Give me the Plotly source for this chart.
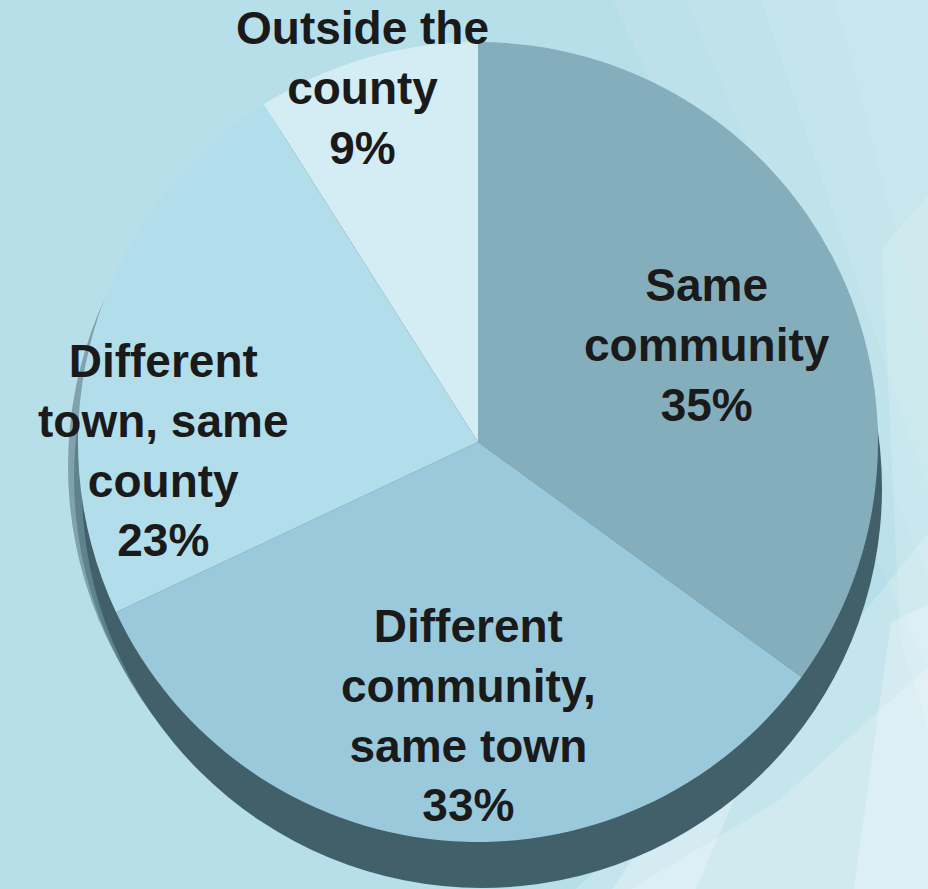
import plotly.graph_objects as go

# ---- data ----
categories = ["Same community", "Different community, same town",
              "Different town, same county", "Outside the county"]
label_lines = ["Same<br>community", "Different<br>community,<br>same town",
               "Different<br>town, same<br>county", "Outside the<br>county"]
values = [35, 33, 23, 9]

# ---- styles / layout ----
slice_colors = ["#85aebd", "#9ac9db", "#b2deec", "#d4ecf4"]
W, H = 928, 889
cx, cy, R = 478, 442, 400          # pie centre / radius in pixels
label_px = [(707, 345), (468, 715), (163, 450), (362, 88)]  # label anchor (px)

def px2paper(x, y):
    return x / W, 1 - y / H

fig = go.Figure()
fig.add_trace(go.Pie(
    labels=categories,
    values=values,
    sort=False,
    direction="clockwise",
    rotation=0,
    marker=dict(colors=slice_colors, line=dict(width=0)),
    textinfo="none",
    hoverinfo="label+percent",
    showlegend=False,
    domain=dict(x=[(cx - R) / W, (cx + R) / W],
                y=[1 - (cy + R) / H, 1 - (cy - R) / H]),
))

def circle(dx, dy, color, r=R, opacity=1.0):
    return dict(type="circle", xref="paper", yref="paper", layer="below",
                x0=(cx - r + dx) / W, x1=(cx + r + dx) / W,
                y0=1 - (cy + r + dy) / H, y1=1 - (cy - r + dy) / H,
                fillcolor=color, line=dict(width=0), opacity=opacity)

def glow(path, op):
    return dict(type="path", xref="paper", yref="paper", layer="below",
                path=path, fillcolor="white", opacity=op, line=dict(width=0))

shapes = [
    # soft background sheen on the right (layered low-opacity white)
    glow("M 0.66,1 L 1,1 L 1,0.25 Z", 0.07),
    glow("M 0.74,1 L 1,1 L 1,0.35 Z", 0.07),
    glow("M 0.82,1 L 1,1 L 1,0.45 Z", 0.07),
    glow("M 0.90,1 L 1,1 L 1,0.60 Z", 0.07),
    glow("M 0.95,0.72 L 1,0.78 L 1,0.18 L 0.97,0.28 Z", 0.15),
    glow("M 0.62,0 L 1,0 L 1,0.40 L 0.86,0.22 Z", 0.20),
    glow("M 0.68,0 L 1,0 L 1,0.25 L 0.84,0.10 Z", 0.20),
    glow("M 0.66,0 L 0.75,0 L 0.84,0.22 L 0.80,0.22 Z", 0.25),
    glow("M 0.92,0 L 1,0 L 1,0.32 L 0.96,0.30 Z", 0.25),
    # 3D rim of the pie (lighter on the left, darker toward the bottom/right)
    circle(-10, 24, "#7fa2ad"),
    circle(-4, 35, "#5f838e"),
    circle(4, 46, "#41606a"),
]

annotations = []
for txt, v, (lx, ly) in zip(label_lines, values, label_px):
    ax, ay = px2paper(lx, ly)
    annotations.append(dict(
        x=ax, y=ay, xref="paper", yref="paper",
        text=f"<b>{txt}<br>{v}%</b>", showarrow=False,
        xanchor="center", yanchor="middle", align="center",
        font=dict(family="Liberation Sans, Arial, sans-serif", size=46, color="#1a1a1a"),
    ))

fig.update_layout(
    width=W, height=H,
    margin=dict(l=0, r=0, t=0, b=0),
    paper_bgcolor="#b7dfe9",
    plot_bgcolor="#b7dfe9",
    shapes=shapes,
    annotations=annotations,
)

fig.write_html("out.html",
               config={"displayModeBar": False},
               post_script="document.body.style.margin='0';document.body.style.overflow='hidden';")
